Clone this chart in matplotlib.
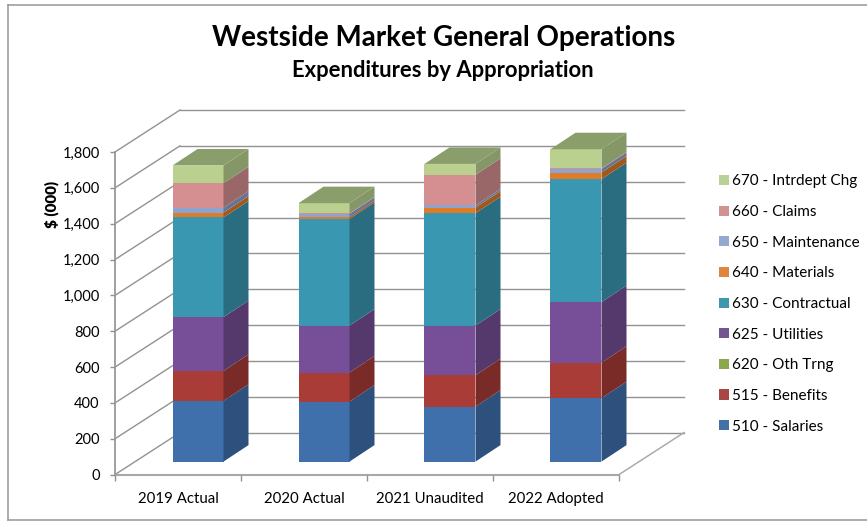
import matplotlib
matplotlib.use("Agg")
import matplotlib.pyplot as plt
import numpy as np
from matplotlib.patches import Polygon, Rectangle
from matplotlib.lines import Line2D
from matplotlib.colors import to_rgb

plt.rcParams['font.family'] = ['Lato', 'DejaVu Sans']

categories = ['2019 Actual', '2020 Actual', '2021 Unaudited', '2022 Adopted']
salaries = [339, 335, 307, 354]
benefits = [167, 162, 175, 198]
oth_trng = [0, 0, 0, 0]
utilities = [300, 262, 277, 338]
contractual = [556, 595, 627, 686]
materials = [27, 10, 31, 37]
maintenance = [28, 18, 12, 20]
claims = [136, 3, 171, 3]
intrdept = [99, 57, 61, 107]

series_names = ['510 - Salaries', '515 - Benefits', '620 - Oth Trng', '625 - Utilities',
                '630 - Contractual', '640 - Materials', '650 - Maintenance', '660 - Claims',
                '670 - Intrdept Chg']
series_values = [salaries, benefits, oth_trng, utilities, contractual, materials,
                 maintenance, claims, intrdept]
front_colors = ['#3F70AC', '#A93C37', '#8BA84A', '#764F98', '#3A97B2', '#E07C26',
                '#8DA3D0', '#D68F90', '#B9D08F']
legend_colors = ['#4470A8', '#A84545', '#8BA84A', '#73558F', '#3F97AD', '#E0853D',
                 '#94A9D0', '#D19292', '#B9D097']
top_color = '#8A9E6C'
y_ticks = list(range(0, 2000, 200))

W, H = 867, 521
fig = plt.figure(figsize=(W / 100, H / 100), dpi=100)
fig.patch.set_facecolor('white')

# chart frame: open on the right, where the picture is cut off
for xs, ys in (([7.5, 867], [5, 5]), ([7.5, 7.5], [5, 519.5]), ([7.5, 867], [519.5, 519.5])):
    fig.add_artist(Line2D([x / W for x in xs], [1 - y / H for y in ys],
                          transform=fig.transFigure, color='#969696', lw=1.1))

# front plane of the 3D box
L, R, T, B = 115, 619, 152, 474.6
ax = fig.add_axes([L / W, 1 - B / H, (R - L) / W, (B - T) / H])
ax.set_xlim(0, 4)
ax.set_ylim(0, 1800)
ax.patch.set_alpha(0)
for s in ax.spines.values():
    s.set_visible(False)

px_x = 4 / (R - L)
px_y = 1800 / (B - T)
wall_dx, wall_dy = 65 * px_x, 42 * px_y
start_dx, start_dy = 20 * px_x, 13 * px_y
bar_dx, bar_dy = 25 * px_x, 16.5 * px_y
bar_w = 51 * px_x

grid = '#929292'
for v in y_ticks:
    ax.plot([0, wall_dx], [v, v + wall_dy], color=grid, lw=1, clip_on=False, zorder=1)
    ax.plot([wall_dx, 4 + wall_dx], [v + wall_dy, v + wall_dy], color=grid, lw=1,
            clip_on=False, zorder=1)
ax.plot([4, 4 + wall_dx], [0, wall_dy], color='#ABABAB', lw=1.1, clip_on=False, zorder=1)
ax.plot([0, 4], [0, 0], color='#A8A8A8', lw=1.5, clip_on=False, zorder=1)
ax.plot([0, 0], [0, 1800], color='#A0A0A0', lw=1.4, clip_on=False, zorder=1)

vals = np.array(series_values, dtype=float)
bottoms = np.vstack([np.zeros(4), np.cumsum(vals, axis=0)])


def darker(c, f):
    return tuple(x * f for x in to_rgb(c))


for i in range(4):
    x0 = i + 0.5 + start_dx - bar_w / 2
    x1 = x0 + bar_w
    for k in range(len(series_values)):
        b, t = bottoms[k, i], bottoms[k + 1, i]
        if t <= b:
            continue
        ax.bar(x0, t - b, bar_w, bottom=b + start_dy, align='edge', color=front_colors[k],
               linewidth=0, clip_on=False, zorder=3)
        ax.add_patch(Polygon([(x1, b + start_dy), (x1 + bar_dx, b + start_dy + bar_dy),
                              (x1 + bar_dx, t + start_dy + bar_dy), (x1, t + start_dy)],
                             closed=True, facecolor=darker(front_colors[k], 0.72),
                             linewidth=0, clip_on=False, zorder=3))
    top = bottoms[-1, i] + start_dy
    ax.add_patch(Polygon([(x0, top), (x1, top), (x1 + bar_dx, top + bar_dy),
                          (x0 + bar_dx, top + bar_dy)], closed=True, facecolor=top_color,
                         linewidth=0, clip_on=False, zorder=3))

ax.set_yticks(y_ticks)
ax.set_yticklabels([f'{v:,}' for v in y_ticks], fontsize=10.5, color='black')
ax.set_xticks(range(5))
ax.set_xticklabels([])
ax.set_xticks(np.arange(4) + 0.5, minor=True)
ax.set_xticklabels(categories, minor=True, fontsize=10.8, color='black')
ax.tick_params(axis='x', which='major', length=4.3, color=grid, width=1)
ax.tick_params(axis='x', which='minor', length=0, pad=12.5)
ax.tick_params(axis='y', length=3.6, color=grid, width=1, pad=7.5)
ax.set_ylabel('$ (000)', fontsize=11, fontweight='heavy', rotation=90)
ax.yaxis.set_label_coords((59 - L) / (R - L), (B - 204) / (B - T))

fig.text(444 / W, 1 - 38 / H, 'Westside Market General Operations', fontsize=20,
         fontweight='bold', ha='center', va='center', color='black')
fig.text(443 / W, 1 - 70.5 / H, 'Expenditures by Appropriation', fontsize=15.8,
         fontweight='bold', ha='center', va='center', color='black')

handles = [Rectangle((0, 0), 1, 1, facecolor=c, linewidth=0) for c in legend_colors]
fig.legend(handles[::-1], series_names[::-1], loc='center left',
           bbox_to_anchor=(712.5 / W, 1 - 304 / H), frameon=False, fontsize=11,
           handlelength=0.65, handleheight=0.65, handletextpad=0.25, labelspacing=1.09,
           borderaxespad=0, borderpad=0.4)

fig.savefig('out.png', dpi=100, facecolor='white')
